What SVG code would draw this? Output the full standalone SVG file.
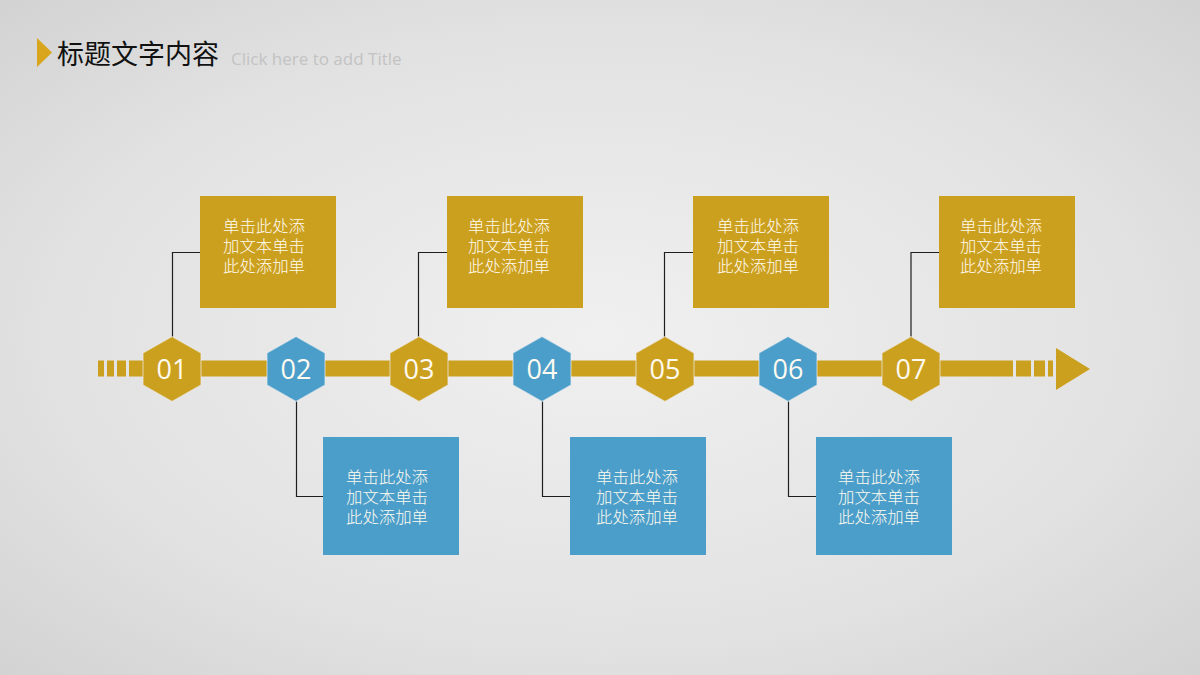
<svg xmlns="http://www.w3.org/2000/svg" width="1200" height="675" viewBox="0 0 1200 675">
<defs>
<radialGradient id="bg" cx="0.5" cy="0.5" r="0.75">
<stop offset="0" stop-color="#f0f0f0"/>
<stop offset="0.6" stop-color="#e2e2e2"/>
<stop offset="1" stop-color="#d0d0d0"/>
</radialGradient>
<style>
.gold{fill:#cca01f}
.blue{fill:#4b9eca}
.hex{stroke:#eeeeee;stroke-width:1.2;stroke-opacity:0.6}
.num{font-family:"Open Sans","Liberation Sans",sans-serif;font-size:27px;font-weight:400;fill:#fffaf0;text-anchor:middle}
.bt{font-family:"Noto Sans CJK SC","Noto Sans",sans-serif;font-size:16.4px;font-weight:300;fill:#fffbef;text-anchor:middle}
.conn{fill:none;stroke:#1e1e1e;stroke-width:1.2}
</style>
</defs>
<rect width="1200" height="675" fill="url(#bg)"/>

<g id="title">
<polygon points="37,38 52,52.5 37,67" fill="#d9a51c"/>
<text x="57" y="64" font-family="Noto Sans CJK SC,sans-serif" font-size="27" fill="#111">标题文字内容</text>
<text x="231" y="65" font-family="Open Sans,Liberation Sans,sans-serif" font-size="17" fill="#c3c3c3">Click here to add Title</text>
</g>

<g id="timeline">
<rect class="gold" x="98" y="360.5" width="6" height="16"/>
<rect class="gold" x="107" y="360.5" width="7" height="16"/>
<rect class="gold" x="117" y="360.5" width="9" height="16"/>
<rect class="gold" x="129" y="360.5" width="884" height="16"/>
<rect class="gold" x="1016" y="360.5" width="15" height="16"/>
<rect class="gold" x="1034" y="360.5" width="11" height="16"/>
<rect class="gold" x="1048" y="360.5" width="5" height="16"/>
<polygon class="gold" points="1056,348 1090,369 1056,390"/>
</g>

<g id="connectors">
<polyline class="conn" points="172.5,337 172.5,252.5 200,252.5"/>
<polyline class="conn" points="418.5,337 418.5,252.5 447,252.5"/>
<polyline class="conn" points="664.5,337 664.5,252.5 693,252.5"/>
<polyline class="conn" points="911,337 911,252.5 939,252.5"/>
<polyline class="conn" points="296.5,401 296.5,496.5 323,496.5"/>
<polyline class="conn" points="542.5,401 542.5,496.5 570,496.5"/>
<polyline class="conn" points="788.5,401 788.5,496.5 816,496.5"/>
</g>

<g id="node-01">
<polygon class="gold hex" points="172,336.5 201,353 201,385 172,401.5 143,385 143,353"/>
<text class="num" x="172" y="379">01</text>
</g>
<g id="node-02">
<polygon class="blue hex" points="296,336.5 325,353 325,385 296,401.5 267,385 267,353"/>
<text class="num" x="296" y="379">02</text>
</g>
<g id="node-03">
<polygon class="gold hex" points="419,336.5 448,353 448,385 419,401.5 390,385 390,353"/>
<text class="num" x="419" y="379">03</text>
</g>
<g id="node-04">
<polygon class="blue hex" points="542,336.5 571,353 571,385 542,401.5 513,385 513,353"/>
<text class="num" x="542" y="379">04</text>
</g>
<g id="node-05">
<polygon class="gold hex" points="665,336.5 694,353 694,385 665,401.5 636,385 636,353"/>
<text class="num" x="665" y="379">05</text>
</g>
<g id="node-06">
<polygon class="blue hex" points="788,336.5 817,353 817,385 788,401.5 759,385 759,353"/>
<text class="num" x="788" y="379">06</text>
</g>
<g id="node-07">
<polygon class="gold hex" points="911,336.5 940,353 940,385 911,401.5 882,385 882,353"/>
<text class="num" x="911" y="379">07</text>
</g>

<g id="box-1">
<rect class="gold" x="200" y="196" width="136" height="112"/>
<text class="bt" y="232"><tspan x="264">单击此处添</tspan><tspan x="264" dy="20">加文本单击</tspan><tspan x="264" dy="20">此处添加单</tspan></text>
</g>
<g id="box-3">
<rect class="gold" x="447" y="196" width="136" height="112"/>
<text class="bt" y="232"><tspan x="509">单击此处添</tspan><tspan x="509" dy="20">加文本单击</tspan><tspan x="509" dy="20">此处添加单</tspan></text>
</g>
<g id="box-5">
<rect class="gold" x="693" y="196" width="136" height="112"/>
<text class="bt" y="232"><tspan x="758">单击此处添</tspan><tspan x="758" dy="20">加文本单击</tspan><tspan x="758" dy="20">此处添加单</tspan></text>
</g>
<g id="box-7">
<rect class="gold" x="939" y="196" width="136" height="112"/>
<text class="bt" y="232"><tspan x="1001">单击此处添</tspan><tspan x="1001" dy="20">加文本单击</tspan><tspan x="1001" dy="20">此处添加单</tspan></text>
</g>
<g id="box-2">
<rect class="blue" x="323" y="437" width="136" height="118"/>
<text class="bt" y="483"><tspan x="387">单击此处添</tspan><tspan x="387" dy="20">加文本单击</tspan><tspan x="387" dy="20">此处添加单</tspan></text>
</g>
<g id="box-4">
<rect class="blue" x="570" y="437" width="136" height="118"/>
<text class="bt" y="483"><tspan x="637">单击此处添</tspan><tspan x="637" dy="20">加文本单击</tspan><tspan x="637" dy="20">此处添加单</tspan></text>
</g>
<g id="box-6">
<rect class="blue" x="816" y="437" width="136" height="118"/>
<text class="bt" y="483"><tspan x="879">单击此处添</tspan><tspan x="879" dy="20">加文本单击</tspan><tspan x="879" dy="20">此处添加单</tspan></text>
</g>
</svg>
